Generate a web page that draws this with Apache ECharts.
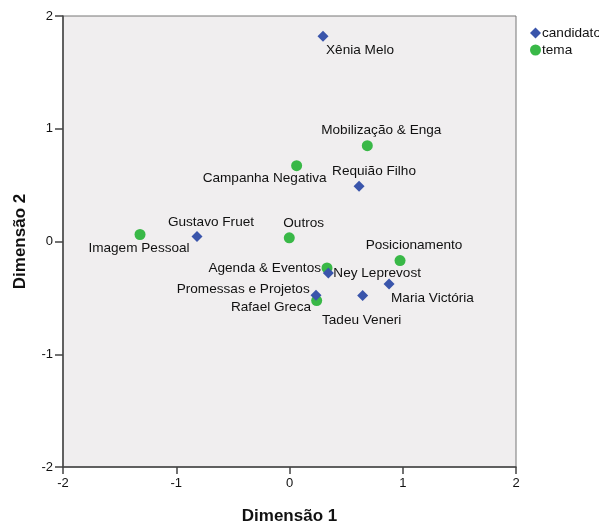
<!DOCTYPE html>
<html>
<head>
<meta charset="utf-8">
<script src="https://cdn.jsdelivr.net/npm/echarts@6/dist/echarts.min.js"></script>
<style>html,body{margin:0;padding:0;background:#fff;}#c{width:599px;height:525px;}</style>
</head>
<body>
<div id="c"></div>
<script>
// Data
var candidatoNames = ["Xênia Melo", "Requião Filho", "Gustavo Fruet", "Ney Leprevost", "Maria Victória", "Tadeu Veneri", "Rafael Greca"];
var candidatoX = [0.296, 0.614, -0.817, 0.343, 0.879, 0.646, 0.234];
var candidatoY = [1.82, 0.49, 0.045, -0.28, -0.376, -0.48, -0.477];

var temaNames = ["Mobilização & Enga", "Campanha Negativa", "Imagem Pessoal", "Outros", "Posicionamento", "Agenda & Eventos", "Promessas e Projetos"];
var temaX = [0.687, 0.063, -1.32, -0.002, 0.976, 0.331, 0.24];
var temaY = [0.85, 0.672, 0.062, 0.033, -0.169, -0.234, -0.524];

var axisTicks = [-2, -1, 0, 1, 2];

// Label placement (style)
var labelPlace = {
  "Xênia Melo": {offset: [3, 14], align: "left"},
  "Requião Filho": {offset: [15, -15], align: "center"},
  "Gustavo Fruet": {offset: [14, -14], align: "center"},
  "Ney Leprevost": {offset: [5, 0], align: "left"},
  "Maria Victória": {offset: [2, 14], align: "left"},
  "Tadeu Veneri": {offset: [-1, 25], align: "center"},
  "Rafael Greca": {offset: [-5, 12], align: "right"},
  "Mobilização & Enga": {offset: [14, -15], align: "center"},
  "Campanha Negativa": {offset: [-32, 13], align: "center"},
  "Imagem Pessoal": {offset: [-1, 14], align: "center"},
  "Outros": {offset: [-6, -15], align: "left"},
  "Posicionamento": {offset: [14, -15], align: "center"},
  "Agenda & Eventos": {offset: [-6, 0], align: "right"},
  "Promessas e Projetos": {offset: [-7, -11], align: "right"}
};

function build(names, xs, ys) {
  return names.map(function (n, i) {
    var p = labelPlace[n];
    return {
      name: n,
      value: [xs[i], ys[i]],
      label: {show: true, position: 'inside', offset: p.offset, align: p.align, verticalAlign: 'middle', formatter: n}
    };
  });
}

var chart = echarts.init(document.getElementById('c'), null, {renderer: 'canvas'});
var font = "Liberation Sans, Arial, sans-serif";
var lblSize = 13.6;
chart.setOption({
  animation: false,
  textStyle: {fontFamily: font},
  grid: {left: 63, right: 83, top: 16, bottom: 58, containLabel: false, outerBoundsMode: 'none', show: true, backgroundColor: '#f0eeef', borderColor: '#777', borderWidth: 1},
  legend: {
    orient: 'vertical', left: 525, top: 21, itemWidth: 11, itemHeight: 11, itemGap: 3,
    textStyle: {fontSize: lblSize, color: '#111', fontFamily: font, padding: [0, 0, 0, -4]},
    data: [{name: 'candidato', icon: 'diamond'}, {name: 'tema', icon: 'circle'}]
  },
  xAxis: {
    type: 'value', min: -2, max: 2, interval: 1,
    name: 'Dimensão 1', nameLocation: 'middle', nameGap: 41,
    nameTextStyle: {fontSize: 17, fontWeight: 'bold', color: '#111', fontFamily: font},
    axisLine: {show: true, onZero: false, lineStyle: {color: '#444', width: 1.5}},
    axisTick: {show: true, length: 7, lineStyle: {color: '#444', width: 1.5}},
    axisLabel: {fontSize: 13, color: '#111', margin: 10, formatter: function(v){return axisTicks.indexOf(v) >= 0 ? String(v) : '';}},
    splitLine: {show: false}
  },
  yAxis: {
    type: 'value', min: -2, max: 2, interval: 1,
    name: 'Dimensão 2', nameLocation: 'middle', nameGap: 34, nameRotate: 90,
    nameTextStyle: {fontSize: 17, fontWeight: 'bold', color: '#111', fontFamily: font},
    axisLine: {show: true, onZero: false, lineStyle: {color: '#444', width: 1.5}},
    axisTick: {show: true, length: 8, lineStyle: {color: '#444', width: 1.5}},
    axisLabel: {fontSize: 13, color: '#111', margin: 10, formatter: function(v){return axisTicks.indexOf(v) >= 0 ? String(v) : '';}},
    splitLine: {show: false}
  },
  series: [
    {
      name: 'candidato', type: 'scatter', symbol: 'diamond', symbolSize: 11,
      itemStyle: {color: '#3a55ab', opacity: 1},
      label: {fontSize: lblSize, color: '#111', fontFamily: font},
      data: build(candidatoNames, candidatoX, candidatoY),
      z: 3
    },
    {
      name: 'tema', type: 'scatter', symbol: 'circle', symbolSize: 11,
      itemStyle: {color: '#39b847', opacity: 1},
      label: {fontSize: lblSize, color: '#111', fontFamily: font},
      data: build(temaNames, temaX, temaY),
      z: 2
    }
  ]
});
</script>
</body>
</html>
